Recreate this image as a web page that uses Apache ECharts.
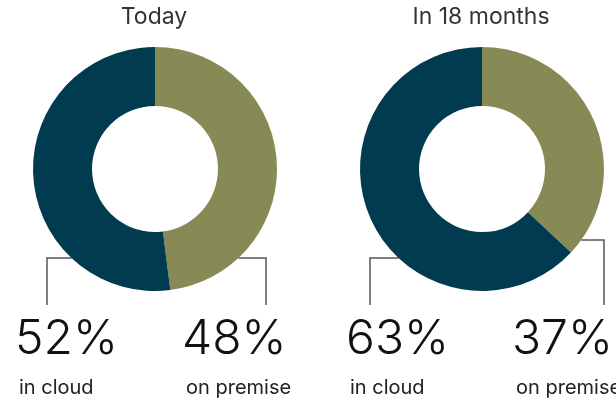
<!DOCTYPE html>
<html>
<head>
<meta charset="utf-8">
<script src="https://cdn.jsdelivr.net/npm/echarts@6/dist/echarts.min.js"></script>
<style>
  html, body { margin: 0; padding: 0; background: #fff; }
  #chart { width: 616px; height: 400px; }
</style>
</head>
<body>
<div id="chart"></div>
<script>
// data
var panels = ['Today', 'In 18 months'];
var categories = ['on premise', 'in cloud'];
var todayValues = [48, 52];
var futureValues = [37, 63];

var colors = ['#878a55', '#003b4f'];
var centers = [[155, 169], [482, 169]];
var radius = [63, 122];

// label line: y where it leaves the ring, x of the elbow, and label box x
var lineY = [[258, 258], [240, 258]];
var elbowX = [[266, 47], [604, 370]];
var labelX = [[182, 15], [512, 346]];
var lineEndY = 305;
var labelTop = 314;

var chart = echarts.init(document.getElementById('chart'));

function ringEdgeX(si, di) {
  var c = centers[si];
  var dy = lineY[si][di] - c[1];
  var dx = Math.sqrt(radius[1] * radius[1] - dy * dy);
  return di === 0 ? c[0] + dx : c[0] - dx;
}

function makeSeries(idx, values) {
  return {
    type: 'pie',
    center: centers[idx],
    radius: radius,
    startAngle: 90,
    clockwise: true,
    silent: true,
    avoidLabelOverlap: false,
    itemStyle: { borderWidth: 0 },
    emphasis: { disabled: true },
    data: categories.map(function (name, i) {
      return { name: name, value: values[i], itemStyle: { color: colors[i] } };
    }),
    label: {
      show: true,
      width: 140,
      formatter: function (p) {
        return '{pct|' + p.value + '%}\n{name|' + p.name + '}';
      },
      rich: {
        pct: { fontFamily: 'Inter', fontWeight: 300, fontSize: 48, lineHeight: 52, color: '#111' },
        name: { fontFamily: 'Inter', fontSize: 20, lineHeight: 44, color: '#222', padding: [0, 0, 0, 4] }
      }
    },
    labelLine: {
      show: true,
      smooth: false,
      lineStyle: { color: '#555', width: 1.5 }
    },
    labelLayout: function (p) {
      var si = p.seriesIndex, di = p.dataIndex;
      var ly = lineY[si][di];
      var ex = elbowX[si][di];
      return {
        x: labelX[si][di],
        y: labelTop,
        align: 'left',
        verticalAlign: 'top',
        labelLinePoints: [[ringEdgeX(si, di), ly], [ex, ly], [ex, lineEndY]]
      };
    }
  };
}

var option = {
  backgroundColor: '#fff',
  animation: false,
  title: panels.map(function (t, i) {
    return {
      text: t,
      left: centers[i][0] - 1,
      top: 6,
      padding: 0,
      textAlign: 'center',
      textStyle: { fontFamily: 'Inter', fontWeight: 400, fontSize: 23, color: '#333' }
    };
  }),
  series: [makeSeries(0, todayValues), makeSeries(1, futureValues)]
};

chart.setOption(option);
</script>
</body>
</html>
